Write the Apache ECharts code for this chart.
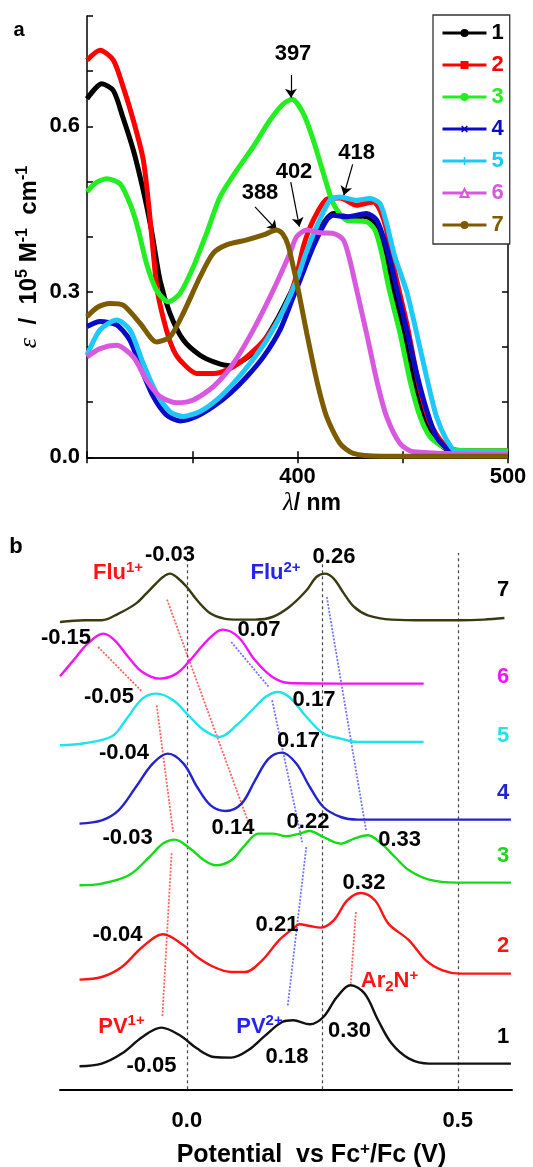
<!DOCTYPE html>
<html><head><meta charset="utf-8">
<script src="https://cdn.jsdelivr.net/npm/echarts@6/dist/echarts.min.js"></script>
<style>html,body{margin:0;padding:0;background:#fff}#c{width:533px;height:1167px}</style>
</head><body><div id="c"></div>
<script>
// ---------- Panel a: absorption spectra (wavelength nm, epsilon / 1e5 M-1 cm-1) ----------
const absNames = ['1','2','3','4','5','6','7'];
const abs1 = [[300,0.650],[307,0.677],[312.5,0.665],[317,0.617],[322,0.557],[326.7,0.484],[330.7,0.410],[334.7,0.321],[339.4,0.261],[345.7,0.213],[353.7,0.185],[361.6,0.171],[368,0.166],[375,0.178],[382,0.200],[390,0.248],[398,0.308],[404,0.356],[409,0.400],[413,0.428],[417,0.442],[421,0.438],[426,0.434],[431,0.437],[435,0.432],[438.5,0.415],[441.5,0.375],[444.5,0.322],[448.5,0.252],[452,0.192],[456.5,0.122],[461,0.066],[466,0.030],[472,0.012],[480,0.008],[500,0.008]];
const abs2 = [[300,0.720],[306.2,0.738],[312.5,0.720],[317.2,0.671],[322,0.611],[326.7,0.540],[329.5,0.450],[331.5,0.370],[333.5,0.300],[337.7,0.231],[341,0.195],[344.2,0.176],[352,0.152],[360,0.152],[368,0.161],[375.9,0.182],[385.4,0.218],[394.9,0.279],[399.6,0.330],[403,0.385],[407.5,0.430],[413.9,0.468],[420.2,0.470],[428,0.457],[436,0.463],[439.2,0.448],[442.3,0.412],[446.3,0.335],[451.9,0.243],[455,0.182],[458.2,0.122],[463,0.062],[469.3,0.025],[475.6,0.013],[500,0.012]];
const abs3 = [[300,0.481],[304,0.497],[309.4,0.505],[315.7,0.496],[320.4,0.460],[324,0.418],[328.3,0.351],[333,0.303],[338.6,0.282],[344.2,0.297],[350.5,0.345],[356.8,0.406],[363.2,0.472],[371.1,0.520],[379,0.563],[386.9,0.611],[393.3,0.641],[397.5,0.649],[402.8,0.623],[407.5,0.575],[412.3,0.515],[417,0.460],[423.3,0.430],[432.8,0.427],[436.8,0.412],[440,0.370],[443.5,0.305],[448.7,0.225],[453.4,0.140],[458.2,0.074],[463,0.037],[469.3,0.019],[476,0.013],[500,0.012]];
const abs4 = [[300,0.237],[306.2,0.246],[314.1,0.240],[320.4,0.212],[326,0.158],[331.5,0.110],[337.7,0.077],[344.2,0.066],[352,0.074],[360,0.092],[368,0.116],[375.9,0.146],[383.8,0.182],[391.7,0.231],[398,0.291],[401.2,0.321],[407.5,0.382],[413.8,0.430],[417,0.439],[423.3,0.436],[432.8,0.442],[437.6,0.430],[440.7,0.400],[444,0.357],[447.5,0.300],[451.9,0.231],[456.6,0.152],[461.3,0.086],[466,0.037],[472.4,0.012],[480,0.006],[500,0.005]];
const abs5 = [[300,0.185],[306.2,0.231],[314.1,0.249],[320.4,0.231],[326.7,0.170],[333,0.116],[339.4,0.083],[345.7,0.074],[353.7,0.083],[361.6,0.104],[369.5,0.134],[377.4,0.170],[385.4,0.213],[393.3,0.267],[399.6,0.321],[404,0.370],[409.1,0.418],[415.4,0.466],[420.2,0.472],[428,0.466],[434.4,0.469],[439.2,0.460],[442.3,0.424],[446.3,0.363],[451.9,0.300],[456.6,0.225],[461.3,0.146],[466,0.074],[470.9,0.031],[475.6,0.010],[500,0.008]];
const abs6 = [[300,0.182],[306.2,0.197],[314.1,0.203],[322,0.182],[328.3,0.140],[334.7,0.110],[342.6,0.099],[350.5,0.104],[360,0.128],[369.5,0.170],[379,0.231],[388.5,0.303],[396.4,0.370],[399.6,0.400],[404.4,0.412],[410.7,0.407],[417,0.406],[421.8,0.394],[424.9,0.357],[428,0.305],[432.8,0.225],[437.6,0.140],[442.3,0.074],[448.7,0.025],[455,0.010],[500,0.005]];
const abs7 = [[300,0.255],[305,0.272],[310.9,0.279],[317.2,0.276],[325.2,0.243],[333,0.209],[339.4,0.218],[345.7,0.261],[353.7,0.327],[360,0.370],[366.3,0.385],[375.9,0.394],[383.8,0.403],[390.1,0.412],[393,0.405],[395.5,0.385],[398,0.345],[400.4,0.303],[404.4,0.225],[409.1,0.140],[413.8,0.074],[420.2,0.025],[426.5,0.007],[440,0.002],[500,0.002]];
const absData = [abs1, abs2, abs3, abs4, abs5, abs6, abs7];
const absColors = ['#000000','#ff0000','#22ee22','#0a0ac8','#1ec8f8','#d858e0','#7d5c00'];
const absSymbols = ['circle','rect','circle','path://M4,0H6V4H10V6H6V10H4V6H0V4H4Z','path://M4,0H6V4H10V6H6V10H4V6H0V4H4Z','emptyTriangle','circle'];
const absSymbolRotate = [0,0,0,45,0,0,0];
const absXTicks = [400, 500];
const absYTicks = [0.0, 0.3, 0.6];
// peak annotations: [text, arrow start nm, arrow start eps, arrow end nm, arrow end eps]
const absPeaks = [['397',396.9,0.693,396.9,0.652],['418',426.2,0.531,422.0,0.475],['402',396.8,0.499,400.9,0.418],['388',379.8,0.454,390.1,0.412]];

// ---------- Panel b: DPV curves (potential V vs Fc+/Fc, offset current a.u.) ----------
const dpvNames = ['7','6','5','4','3','2','1'];
const dpv7 = [[-0.234,46.73],[-0.189,46.9],[-0.157,46.9],[-0.126,47.57],[-0.094,48.57],[-0.075,49.57],[-0.057,50.57],[-0.044,51.23],[-0.031,51.57],[-0.019,51.23],[0,50.23],[0.019,48.9],[0.044,47.57],[0.069,47.07],[0.095,46.97],[0.126,46.97],[0.158,47.23],[0.189,48.23],[0.221,49.9],[0.239,51.23],[0.255,51.57],[0.271,51.07],[0.290,49.57],[0.309,48.23],[0.334,47.4],[0.378,46.97],[0.441,46.9],[0.504,46.9],[0.548,46.97],[0.586,47.13]];
const dpv6 = [[-0.234,41.3],[-0.208,42.97],[-0.183,44.57],[-0.154,45.57],[-0.133,44.9],[-0.108,43.23],[-0.082,41.73],[-0.050,41.07],[-0.019,41.57],[0.006,42.9],[0.038,44.9],[0.066,45.97],[0.095,45.23],[0.126,42.9],[0.158,41.23],[0.189,40.63],[0.284,40.57],[0.437,40.57]];
const dpv5 = [[-0.234,34.4],[-0.189,34.6],[-0.138,35.3],[-0.113,36.9],[-0.082,39.07],[-0.056,39.57],[-0.025,38.9],[0.006,37.23],[0.032,35.9],[0.060,35.23],[0.095,36.57],[0.126,38.23],[0.145,39.23],[0.167,39.73],[0.189,39.23],[0.221,37.23],[0.252,35.57],[0.284,35.07],[0.315,34.73],[0.437,34.73]];
const dpv4 = [[-0.198,26.57],[-0.157,26.9],[-0.126,27.9],[-0.094,30.23],[-0.063,32.57],[-0.035,33.57],[-0.006,32.57],[0.019,30.23],[0.044,28.4],[0.072,27.83],[0.101,28.57],[0.126,30.9],[0.151,33.07],[0.176,33.67],[0.202,32.57],[0.227,30.23],[0.252,28.23],[0.284,27.23],[0.315,26.97],[0.598,26.97]];
const dpv3 = [[-0.198,20.4],[-0.157,20.57],[-0.107,21.4],[-0.069,23.23],[-0.044,24.57],[-0.022,24.97],[0.006,24.07],[0.032,22.9],[0.054,22.4],[0.082,22.9],[0.107,24.4],[0.132,25.57],[0.158,25.57],[0.183,25.3],[0.208,25.57],[0.227,25.83],[0.252,25.23],[0.284,24.57],[0.309,25.07],[0.334,25.4],[0.359,24.57],[0.384,23.23],[0.410,21.9],[0.447,20.97],[0.497,20.67],[0.598,20.67]];
const dpv2 = [[-0.198,10.97],[-0.157,11.23],[-0.120,12.23],[-0.082,14.23],[-0.044,15.5],[-0.006,14.4],[0.019,13.23],[0.050,12.23],[0.082,11.73],[0.107,11.73],[0.139,12.9],[0.170,14.9],[0.196,16.07],[0.208,16.5],[0.227,16.33],[0.246,16.17],[0.271,16.9],[0.296,18.9],[0.321,19.63],[0.347,18.9],[0.372,16.57],[0.410,14.9],[0.441,12.9],[0.472,11.9],[0.504,11.57],[0.598,11.57]];
const dpv1 = [[-0.198,2.3],[-0.157,2.57],[-0.120,3.57],[-0.082,5.23],[-0.047,6.17],[-0.013,5.4],[0.019,4.07],[0.050,3.23],[0.082,3.17],[0.113,3.9],[0.145,5.4],[0.176,6.73],[0.196,6.9],[0.227,6.5],[0.252,7.23],[0.277,9.23],[0.302,10.4],[0.328,9.57],[0.353,6.9],[0.378,4.57],[0.410,3.07],[0.447,2.57],[0.598,2.57]];
const dpvData = [dpv7, dpv6, dpv5, dpv4, dpv3, dpv2, dpv1];
const dpvColors = ['#3a3a12','#f214f2','#1ee4ea','#2424cc','#14dc14','#ff1414','#111111'];
const dpvLabelColors = ['#000000','#f214f2','#1ee4ea','#2424cc','#14dc14','#ff1414','#000000'];
const dpvXTicks = [0, 0.5];
const dpvGuideLines = [0, 0.25, 0.5];
// dotted correlation guides: [[x1,y1],[x2,y2]]
const redGuides = [[[-0.0365,48.97],[0.1167,26.23]],[[-0.1637,44.23],[-0.0817,39.73]],[[-0.0556,38.4],[-0.025,25.6]],[[-0.0281,23.6],[-0.0452,7.2]],[[0.3119,17.73],[0.3024,10.57]]];
const blueGuides = [[[0.082,44.73],[0.1513,40.23]],[[0.2583,49.23],[0.3307,25.9]],[[0.1574,38.9],[0.213,24.7]],[[0.2204,24.23],[0.1859,8.23]]];

const FF = 'Liberation Sans, Arial, sans-serif';
const chart = echarts.init(document.getElementById('c'), null, {renderer:'canvas'});

const series = [];
absData.forEach((d, i) => {
  const s = {
    name: absNames[i], type: 'line', xAxisIndex: 0, yAxisIndex: 0,
    data: d, smooth: 0.25, showSymbol: false, symbol: absSymbols[i], symbolRotate: absSymbolRotate[i],
    lineStyle: {width: 5, color: absColors[i]}, itemStyle: {color: absColors[i]},
    emphasis: {disabled: true}, silent: true, z: 2 + i
  };
  if (i === 0) {
    s.markLine = {
      silent: true, symbol: ['none', 'arrow'], symbolSize: 9, animation: false,
      lineStyle: {color: '#000', width: 1.2, type: 'solid'}, label: {show: false},
      emphasis: {disabled: true},
      data: absPeaks.map(p => [{coord: [p[1], p[2]]}, {coord: [p[3], p[4]]}])
    };
  }
  series.push(s);
});
dpvData.forEach((d, i) => {
  const s = {
    name: 'dpv' + dpvNames[i], type: 'line', xAxisIndex: 2, yAxisIndex: 2,
    data: d, smooth: 0.35, showSymbol: false, symbol: 'none',
    lineStyle: {width: 2.4, color: dpvColors[i]}, itemStyle: {color: dpvColors[i]},
    emphasis: {disabled: true}, silent: true, z: 5
  };
  if (i === 0) {
    s.markLine = {
      silent: true, symbol: ['none', 'none'], animation: false, label: {show: false},
      lineStyle: {color: '#444', width: 1.2, type: [3, 3]},
      emphasis: {disabled: true},
      data: dpvGuideLines.map(v => ({xAxis: v}))
    };
  }
  series.push(s);
});
redGuides.forEach((g, i) => series.push({
  name: 'rg' + i, type: 'line', xAxisIndex: 2, yAxisIndex: 2, data: g, showSymbol: false, symbol: 'none',
  lineStyle: {width: 1.8, color: 'rgba(255,60,60,0.8)', type: [2, 1.5]}, silent: true, z: 3, emphasis: {disabled: true}
}));
blueGuides.forEach((g, i) => series.push({
  name: 'bg' + i, type: 'line', xAxisIndex: 2, yAxisIndex: 2, data: g, showSymbol: false, symbol: 'none',
  lineStyle: {width: 1.8, color: 'rgba(80,80,255,0.8)', type: [2, 1.5]}, silent: true, z: 3, emphasis: {disabled: true}
}));

const lblStyle = {fontFamily: FF, fontWeight: 'bold', fontSize: 22, color: '#000'};
const axisLineA = {show: true, lineStyle: {color: '#000', width: 1.5}};
const tickA = {show: true, inside: true, length: 6, lineStyle: {color: '#000', width: 1.5}};

function txt(x, y, text, opts) {
  opts = opts || {};
  return {
    type: 'text', x: x, y: y, rotation: opts.rotation || 0, silent: true, z: 100,
    style: Object.assign({
      text: text, align: 'center', verticalAlign: 'middle', fill: opts.color || '#000',
      font: 'bold ' + (opts.size || 22) + 'px ' + FF
    }, opts.rich ? {rich: opts.rich} : {})
  };
}
const supRich = (size, color) => ({
  s: {fontSize: Math.round(size * 0.68), lineHeight: Math.round(size * 0.68), verticalAlign: 'top', fontWeight: 'bold', fontFamily: FF, fill: color, color: color},
  b: {fontSize: Math.round(size * 0.68), lineHeight: Math.round(size * 0.68), verticalAlign: 'bottom', fontWeight: 'bold', fontFamily: FF, fill: color, color: color},
  m: {fontSize: size, lineHeight: size + 4, fontWeight: 'bold', fontFamily: FF, fill: color, color: color},
  e: {fontSize: size + 2, lineHeight: size + 4, fontStyle: 'italic', fontFamily: 'Liberation Serif, serif', fill: color, color: color}
});

const graphics = [
  txt(19, 30, 'a', {size: 20}),
  txt(16, 547, 'b', {size: 22}),
  txt(293, 53.5, absPeaks[0][0]), txt(356.7, 153, absPeaks[1][0]), txt(294, 172, absPeaks[2][0]), txt(260, 193, absPeaks[3][0]),
  txt(29, 257, '{e|ε} {m| /  10}{s|5}{m| M}{s|-1}{m|  cm}{s|-1}', {rotation: Math.PI / 2, size: 24, rich: supRich(24, '#000')}),
  txt(312, 503.5, '{e|λ}{m|/ nm}', {size: 23, rich: supRich(23, '#000')}),
  txt(311.5, 1155, '{m|Potential  vs Fc}{s|+}{m|/Fc (V)}', {size: 25, rich: supRich(25, '#000')}),
  // panel b peak labels
  txt(170, 555, '-0.03'), txt(334, 556.7, '0.26'),
  txt(118, 573, '{m|Flu}{s|1+}', {rich: supRich(22, '#ff1414')}),
  txt(275.5, 573, '{m|Flu}{s|2+}', {rich: supRich(22, '#2424ee')}),
  txt(66, 638, '-0.15'), txt(259, 630, '0.07'),
  txt(109, 697, '-0.05'), txt(314, 700, '0.17'),
  txt(124, 753, '-0.04'), txt(298.5, 741, '0.17'),
  txt(127.6, 838, '-0.03'), txt(233, 828, '0.14'), txt(308, 822, '0.22'), txt(399.6, 840, '0.33'),
  txt(364, 883, '0.32'), txt(277, 925, '0.21'), txt(117.5, 934.5, '-0.04'),
  txt(389.5, 981, '{m|Ar}{b|2}{m|N}{s|+}', {rich: supRich(22, '#ff1414')}),
  txt(121.5, 1026.5, '{m|PV}{s|1+}', {rich: supRich(22, '#ff1414')}),
  txt(259.5, 1026.5, '{m|PV}{s|2+}', {rich: supRich(22, '#2424ee')}),
  txt(349.5, 1030.5, '0.30'), txt(287, 1057, '0.18'), txt(151.5, 1066, '-0.05')
];
const rightY = [590, 676.5, 735.5, 792.5, 855.5, 946, 1037];
dpvNames.forEach((n, i) => graphics.push(txt(503, rightY[i], n, {color: dpvLabelColors[i]})));

const option = {
  backgroundColor: '#fff',
  animation: false,
  grid: [
    {left: 87, top: 16, width: 421, height: 441.3, containLabel: false},
    {left: 60, top: 553, width: 452, height: 536.3, containLabel: false}
  ],
  legend: {
    orient: 'vertical', left: 433, top: 15, padding: [7, 6, 8, 8],
    itemWidth: 44, itemHeight: 10, itemGap: 10, selectedMode: false,
    borderColor: '#333', borderWidth: 1.3, backgroundColor: '#fff', borderRadius: 0,
    lineStyle: {width: 3},
    textStyle: {fontSize: 22, fontWeight: 'bold', fontFamily: FF, lineHeight: 22, padding: [0, 0, 0, 0]},
    data: absNames.map((n, i) => ({name: n, textStyle: {color: absColors[i]}}))
  },
  xAxis: [
    {type: 'value', gridIndex: 0, min: 300, max: 500, interval: 50, position: 'bottom',
     axisLine: axisLineA, axisTick: tickA, splitLine: {show: false},
     axisLabel: Object.assign({margin: 9, showMaxLabel: true, showMinLabel: true,
       formatter: v => absXTicks.indexOf(Math.round(v)) >= 0 ? String(Math.round(v)) : ''}, lblStyle)},
    {type: 'value', gridIndex: 0, min: 300, max: 500, interval: 50, position: 'top',
     axisLine: axisLineA, axisTick: tickA, splitLine: {show: false}, axisLabel: {show: false}},
    {type: 'value', gridIndex: 1, min: -0.234, max: 0.6, position: 'bottom',
     axisLine: {show: true, onZero: false, lineStyle: {color: '#000', width: 2}},
     axisTick: {show: false}, splitLine: {show: false},
     axisLabel: Object.assign({margin: 21, customValues: dpvXTicks, formatter: v => v.toFixed(1)}, lblStyle)}
  ],
  yAxis: [
    {type: 'value', gridIndex: 0, min: 0, max: 0.8, interval: 0.1, position: 'left',
     axisLine: axisLineA, axisTick: tickA, splitLine: {show: false},
     axisLabel: Object.assign({margin: 7, showMaxLabel: true, showMinLabel: true,
       formatter: v => absYTicks.some(t => Math.abs(t - v) < 1e-6) ? v.toFixed(1) : ''}, lblStyle)},
    {type: 'value', gridIndex: 0, min: 0, max: 0.8, interval: 0.1, position: 'right',
     axisLine: axisLineA, axisTick: tickA, splitLine: {show: false}, axisLabel: {show: false}},
    {type: 'value', gridIndex: 1, min: 0, max: 53.63, show: false, splitLine: {show: false}}
  ],
  series: series,
  graphic: graphics
};
chart.setOption(option);
</script>
</body></html>
